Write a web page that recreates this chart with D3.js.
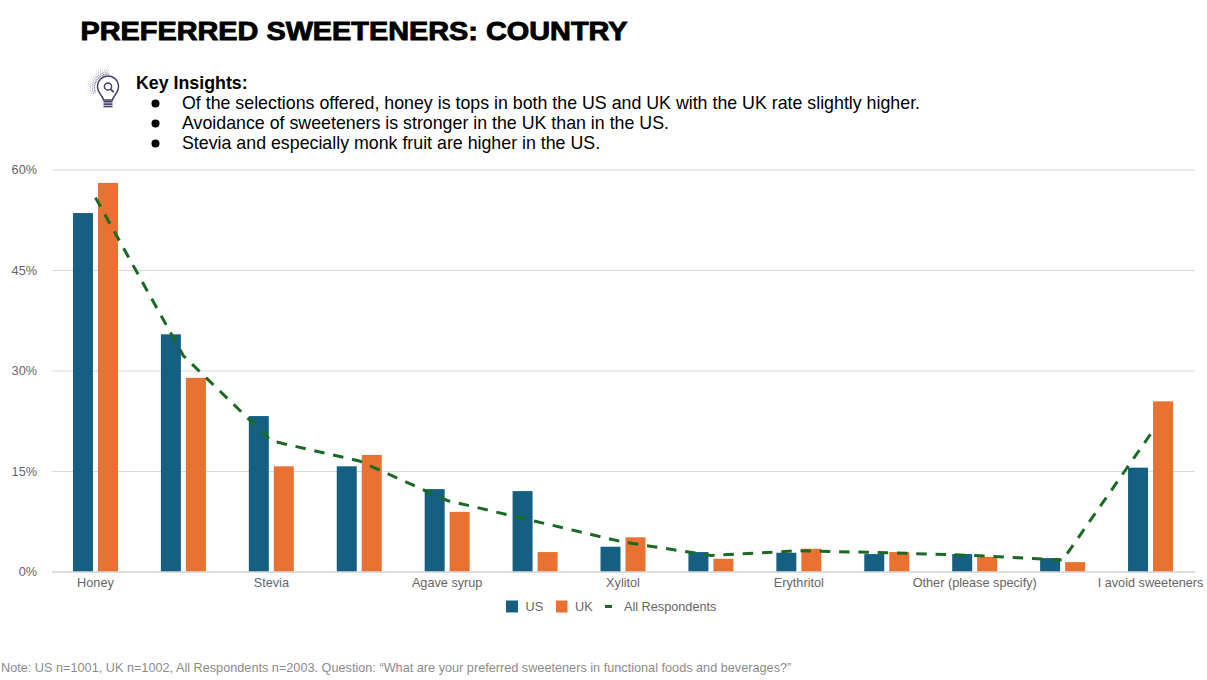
<!DOCTYPE html>
<html>
<head>
<meta charset="utf-8">
<script src="https://cdn.jsdelivr.net/npm/d3@7/dist/d3.min.js"></script>
<style>
html,body{margin:0;padding:0;background:#fff;}
svg{display:block;font-family:"Liberation Sans",Arial,sans-serif;}
</style>
</head>
<body>
<svg id="chart" width="1207" height="680"></svg>
<script>
// Sweetener preference by country, in percent of respondents
const tickLabels = ["Honey","","Stevia","","Agave syrup","","Xylitol","","Erythritol","","Other (please specify)","","I avoid sweeteners"];
const usValues = [53.5,35.4,23.2,15.7,12.3,12.0,3.7,2.9,2.8,2.6,2.6,2.0,15.5];
const ukValues = [58.0,28.9,15.7,17.4,8.9,2.9,5.1,1.9,3.4,2.9,2.2,1.4,25.4];
const allValues = [55.8,32.2,19.5,16.5,10.6,7.5,4.4,2.4,3.1,2.8,2.4,1.7,20.5];
const yTicks = [0,15,30,45,60];
const seriesNames = ["US","UK"];
const insights = [
  "Of the selections offered, honey is tops in both the US and UK with the UK rate slightly higher.",
  "Avoidance of sweeteners is stronger in the UK than in the US.",
  "Stevia and especially monk fruit are higher in the US."
];
const footnote = "Note: US n=1001, UK n=1002, All Respondents n=2003. Question: \u201CWhat are your preferred sweeteners in functional foods and beverages?\u201D";

const colors = {US:"#156082", UK:"#E97132", All:"#196B24"};
const svg = d3.select("#chart");

const plot = {left:51.5, right:1194.5, top:169.5, bottom:571.5};
const indices = d3.range(tickLabels.length);
const x = d3.scaleBand().domain(indices).range([plot.left, plot.right]);
const xInner = d3.scaleBand().domain(seriesNames).range([0,45]).paddingInner(0.2);
const y = d3.scaleLinear().domain([0,60]).range([plot.bottom, plot.top]);
const center = i => x(i) + x.bandwidth()/2;

// Title, widened to a heavy display weight
svg.append("text").attr("x",80.5).attr("y",40)
  .attr("font-size",26).attr("font-weight",700)
  .attr("fill","#000").attr("stroke","#000").attr("stroke-width",0.9)
  .attr("textLength",547).attr("lengthAdjust","spacingAndGlyphs")
  .text("PREFERRED SWEETENERS: COUNTRY");

// Lightbulb icon with a dotted halo
const icon = svg.append("g").attr("transform","translate(108,87.5)");
const ink = "#45406e";
[13.5,15.5,17.5,19.5,21.5].forEach((r,k)=>{
  d3.range(0,17).forEach(n=>{
    const a = (88 + n*7 + (k%2)*3.5)*Math.PI/180;
    icon.append("circle")
      .attr("cx",r*Math.cos(a)).attr("cy",-r*Math.sin(a))
      .attr("r",0.7 - k*0.08).attr("fill",ink).attr("opacity",0.65 - k*0.1);
  });
});
icon.append("path")
  .attr("d","M-4.5,12.5 C-5,8.5 -10.5,5.5 -10.5,-1 A10.5,10.5 0 1 1 10.5,-1 C10.5,5.5 5,8.5 4.5,12.5 Z")
  .attr("fill","#fff").attr("stroke",ink).attr("stroke-width",1.5);
icon.append("circle").attr("cx",0).attr("cy",-1).attr("r",3.6).attr("fill","none").attr("stroke",ink).attr("stroke-width",1.5);
icon.append("line").attr("x1",2.6).attr("y1",1.6).attr("x2",5.6).attr("y2",4.6).attr("stroke",ink).attr("stroke-width",1.8);
[14.2,16.6,19].forEach(v=>{
  icon.append("line").attr("x1",-4.5).attr("x2",4.5).attr("y1",v).attr("y2",v).attr("stroke",ink).attr("stroke-width",1.7);
});

// Key insights block
svg.append("text").attr("x",136).attr("y",89)
  .attr("font-size",17.8).attr("font-weight",700).attr("fill","#000").text("Key Insights:");
insights.forEach((t,i)=>{
  const by = 109 + i*20;
  svg.append("circle").attr("cx",155.5).attr("cy",by-5.5).attr("r",4).attr("fill","#000");
  svg.append("text").attr("x",182).attr("y",by).attr("font-size",17.8).attr("fill","#000").text(t);
});

// Horizontal gridlines and value axis
const yAxis = svg.append("g").attr("transform",`translate(${plot.left},0)`)
  .call(d3.axisLeft(y).tickValues(yTicks).tickFormat(d=>d+"%")
    .tickSize(-(plot.right-plot.left)).tickPadding(14.5));
yAxis.select(".domain").remove();
yAxis.selectAll("line").attr("stroke","#d9d9d9").attr("stroke-width",1);
yAxis.selectAll("text").attr("fill","#666").attr("font-size",12.7)
  .attr("font-family","'Liberation Sans',Arial,sans-serif");

// Paired bars for each sweetener
const groups = svg.append("g").selectAll("g").data(indices).join("g")
  .attr("transform",i=>`translate(${center(i)-22.5},0)`);
groups.append("rect").attr("x",xInner("US")).attr("width",xInner.bandwidth())
  .attr("y",i=>y(usValues[i])).attr("height",i=>y(0)-y(usValues[i])).attr("fill",colors.US);
groups.append("rect").attr("x",xInner("UK")).attr("width",xInner.bandwidth())
  .attr("y",i=>y(ukValues[i])).attr("height",i=>y(0)-y(ukValues[i])).attr("fill",colors.UK);

// Category axis, with every other label left empty
const xAxis = svg.append("g").attr("transform",`translate(0,${plot.bottom})`)
  .call(d3.axisBottom(x).tickFormat(i=>tickLabels[i]).tickSize(0).tickPadding(6));
xAxis.select(".domain").attr("stroke","#d0d0d0").attr("stroke-width",1);
xAxis.selectAll("text").attr("fill","#666").attr("font-size",12.7)
  .attr("font-family","'Liberation Sans',Arial,sans-serif");

// All-respondents dashed line
const line = d3.line().x(i=>center(i)).y(i=>y(allValues[i]));
svg.append("path").datum(indices).attr("d",line)
  .attr("fill","none").attr("stroke",colors.All).attr("stroke-width",3)
  .attr("stroke-dasharray","10.5 8.8");

// Legend
const legend = svg.append("g").attr("font-size",12.7).attr("fill","#666");
legend.append("rect").attr("x",506).attr("y",600.5).attr("width",12).attr("height",12).attr("fill",colors.US);
legend.append("text").attr("x",525.5).attr("y",611).text("US");
legend.append("rect").attr("x",556).attr("y",600.5).attr("width",11.5).attr("height",12).attr("fill",colors.UK);
legend.append("text").attr("x",575).attr("y",611).text("UK");
legend.append("line").attr("x1",605).attr("x2",612).attr("y1",606.5).attr("y2",606.5)
  .attr("stroke",colors.All).attr("stroke-width",3);
legend.append("text").attr("x",624).attr("y",611).text("All Respondents");

// Footnote
svg.append("text").attr("x",1).attr("y",672).attr("font-size",12.7).attr("fill","#8c8c8c").text(footnote);
</script>
</body>
</html>
